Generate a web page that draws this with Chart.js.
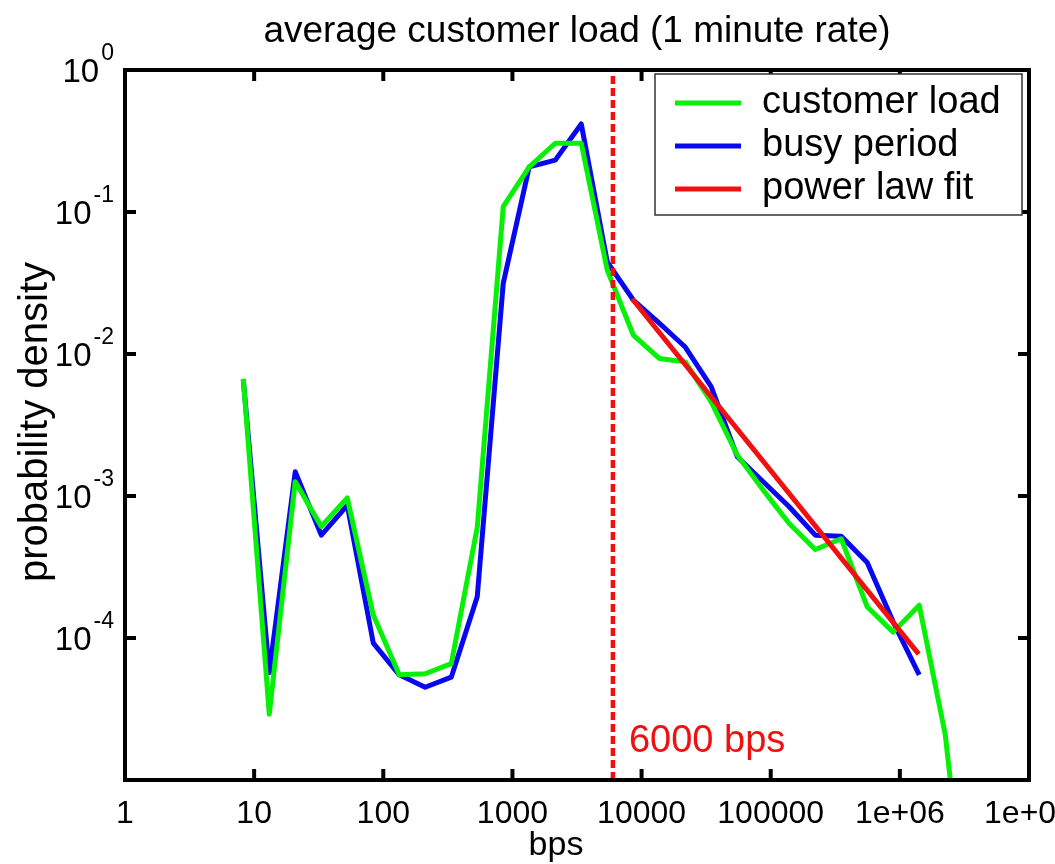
<!DOCTYPE html>
<html>
<head>
<meta charset="utf-8">
<title>average customer load</title>
<script src="https://cdn.jsdelivr.net/npm/chart.js@4.4.1/dist/chart.umd.min.js"></script>
<style>
  body { margin: 0; background: #fff; }
  canvas { display: block; }
</style>
</head>
<body>
<canvas id="loadChart" width="1055" height="864"></canvas>
<script>
// bin centres (bps)
var bps = [8.24, 13.1, 20.8, 33.1, 52.6, 83.7, 133, 211, 336, 534, 849, 1349, 2147, 3412, 5420,
           8630, 13710, 21780, 34590, 55080, 87500, 139000, 221300, 351600, 558500, 887200,
           1412500, 2244000, 3565000];

var customerLoad = [6.7e-3, 2.9e-5, 1.26e-3, 6.1e-4, 9.7e-4, 1.45e-4, 5.5e-5, 5.6e-5, 6.6e-5, 6.0e-4,
                    0.109, 0.208, 0.305, 0.305, 0.039, 0.0136, 9.3e-3, 8.8e-3, 4.6e-3, 1.94e-3,
                    1.1e-3, 6.4e-4, 4.2e-4, 5.0e-4, 1.66e-4, 1.1e-4, 1.7e-4, 2.1e-5, 5e-7];

var busyPeriod = [6.6e-3, 5.7e-5, 1.48e-3, 5.3e-4, 8.6e-4, 9.2e-5, 5.5e-5, 4.5e-5, 5.3e-5, 1.95e-4,
                  0.0315, 0.208, 0.232, 0.417, 0.0446, 0.024, 0.0165, 0.0112, 5.9e-3, 1.89e-3,
                  1.26e-3, 8.4e-4, 5.3e-4, 5.2e-4, 3.4e-4, 1.3e-4, 5.5e-5];

var fitBps = [8450, 1400000];
var fitDensity = [0.0245, 7.7e-5];

var cutoffBps = 6000;

var xTickValues = [1, 10, 100, 1000, 10000, 100000, 1000000, 10000000];
var xTickLabels = ['1', '10', '100', '1000', '10000', '100000', '1e+06', '1e+07'];
var yTickPowers = [0, -1, -2, -3, -4];

var seriesLabels = ['customer load', 'busy period', 'power law fit'];
var seriesColors = ['#08f008', '#0808f0', '#f01010'];

var FONT = "'Liberation Sans', Arial, sans-serif";

function toPoints(xs, ys) {
    var pts = [];
    for (var i = 0; i < ys.length; i++) {
        pts.push({ x: xs[i], y: ys[i] });
    }
    return pts;
}

function strokeLine(ctx, x1, y1, x2, y2) {
    ctx.beginPath();
    ctx.moveTo(x1, y1);
    ctx.lineTo(x2, y2);
    ctx.stroke();
}

// frame, inward ticks, labels, legend: drawn by hand in MATLAB style
var matlabAxes = {
    id: 'matlabAxes',
    afterDraw: function (chart) {
        var ctx = chart.ctx;
        var a = chart.chartArea;
        var xs = chart.scales.x;
        var ys = chart.scales.y;

        ctx.save();
        ctx.strokeStyle = '#000';
        ctx.fillStyle = '#000';
        ctx.lineWidth = 4;
        ctx.lineCap = 'butt';
        ctx.strokeRect(a.left, a.top, a.right - a.left, a.bottom - a.top);

        // x ticks + labels
        ctx.font = '32px ' + FONT;
        ctx.textAlign = 'center';
        ctx.textBaseline = 'top';
        for (var i = 0; i < xTickValues.length; i++) {
            var px = xs.getPixelForValue(xTickValues[i]);
            strokeLine(ctx, px, a.bottom, px, a.bottom - 11);
            strokeLine(ctx, px, a.top, px, a.top + 11);
            ctx.fillText(xTickLabels[i], px, a.bottom + 18);
        }

        // y ticks + labels 10^n
        for (var j = 0; j < yTickPowers.length; j++) {
            var py = ys.getPixelForValue(Math.pow(10, yTickPowers[j]));
            strokeLine(ctx, a.left, py, a.left + 11, py);
            strokeLine(ctx, a.right, py, a.right - 11, py);
            var expText = yTickPowers[j] === 0 ? '0' : '-' + (-yTickPowers[j]);
            ctx.textAlign = 'right';
            ctx.textBaseline = 'middle';
            ctx.font = '23px ' + FONT;
            var expW = ctx.measureText(expText).width;
            ctx.fillText(expText, a.left - 11, py - 16);
            ctx.font = '33px ' + FONT;
            ctx.fillText('10', a.left - 13 - expW, py + 3);
        }

        // title and axis titles
        ctx.textAlign = 'center';
        ctx.textBaseline = 'middle';
        ctx.font = '37px ' + FONT;
        ctx.fillText('average customer load (1 minute rate)', (a.left + a.right) / 2, 32);
        ctx.font = '34px ' + FONT;
        ctx.fillText('bps', 556, 846);
        ctx.save();
        ctx.translate(36, (a.top + a.bottom) / 2 - 3);
        ctx.rotate(-Math.PI / 2);
        ctx.font = '40px ' + FONT;
        ctx.fillText('probability density', 0, 0);
        ctx.restore();

        // cutoff annotation
        ctx.fillStyle = seriesColors[2];
        ctx.textAlign = 'left';
        ctx.font = '38px ' + FONT;
        ctx.fillText(cutoffBps + ' bps', xs.getPixelForValue(cutoffBps) + 16, 742);

        // legend box
        var lx = 655, ly = 74, lw = 367, lh = 141;
        ctx.fillStyle = '#fff';
        ctx.fillRect(lx, ly, lw, lh);
        ctx.lineWidth = 1.5;
        ctx.strokeStyle = '#333';
        ctx.strokeRect(lx, ly, lw, lh);
        ctx.font = '38px ' + FONT;
        ctx.textBaseline = 'middle';
        for (var k = 0; k < seriesLabels.length; k++) {
            var rowY = ly + 29 + k * 43;
            ctx.strokeStyle = seriesColors[k];
            ctx.lineWidth = 5;
            strokeLine(ctx, lx + 20, rowY, lx + 86, rowY);
            ctx.fillStyle = '#000';
            ctx.fillText(seriesLabels[k], lx + 107, rowY);
        }
        ctx.restore();
    }
};

window.onload = function () {
    var ctx = document.getElementById('loadChart').getContext('2d');
    var myChart = new Chart(ctx, {
        type: 'line',
        data: {
            datasets: [{
                label: seriesLabels[0],
                data: toPoints(bps, customerLoad),
                borderColor: seriesColors[0],
                borderWidth: 5,
                order: 2
            }, {
                label: seriesLabels[1],
                data: toPoints(bps, busyPeriod),
                borderColor: seriesColors[1],
                borderWidth: 5,
                order: 3
            }, {
                label: seriesLabels[2],
                data: toPoints(fitBps, fitDensity),
                borderColor: seriesColors[2],
                borderWidth: 5,
                order: 1
            }, {
                label: 'cutoff',
                data: [{ x: cutoffBps, y: 1e-5 }, { x: cutoffBps, y: 1 }],
                borderColor: seriesColors[2],
                borderWidth: 4.5,
                borderDash: [8, 4],
                order: 0
            }]
        },
        options: {
            responsive: false,
            devicePixelRatio: 1,
            animation: false,
            layout: {
                padding: { left: 125, top: 70, right: 26, bottom: 84 }
            },
            elements: {
                point: { radius: 0 },
                line: { tension: 0, fill: false, borderJoinStyle: 'round', borderCapStyle: 'butt' }
            },
            scales: {
                x: { type: 'logarithmic', min: 1, max: 1e7, display: false },
                y: { type: 'logarithmic', min: 1e-5, max: 1, display: false }
            },
            plugins: {
                legend: { display: false },
                tooltip: { enabled: false }
            }
        },
        plugins: [matlabAxes]
    });
};
</script>
</body>
</html>
